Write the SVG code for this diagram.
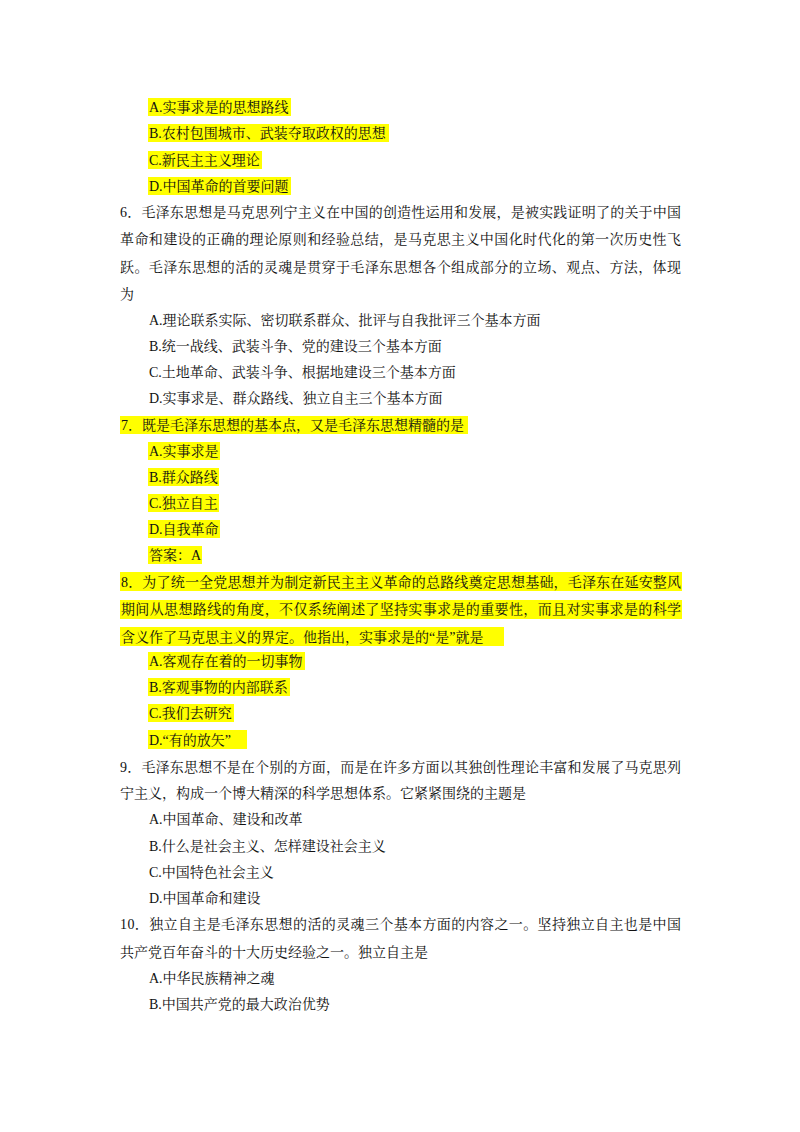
<svg xmlns="http://www.w3.org/2000/svg" width="800" height="1132" viewBox="0 0 800 1132">
<style>
text{font-family:"Liberation Serif","Noto Serif CJK SC","Noto Sans CJK SC",serif;font-size:14px;fill:#111}
.h{fill:#ffff00}
</style>
<rect width="800" height="1132" fill="#fff"/>
<g id="highlights">
<rect class="h" x="148" y="98" width="143" height="18"/>
<rect class="h" x="148" y="124" width="241" height="18"/>
<rect class="h" x="148" y="151" width="114" height="18"/>
<rect class="h" x="148" y="177" width="143" height="18"/>
<rect class="h" x="120" y="416" width="348" height="18"/>
<rect class="h" x="148" y="442" width="72" height="18"/>
<rect class="h" x="148" y="468" width="71" height="18"/>
<rect class="h" x="148" y="494" width="71" height="18"/>
<rect class="h" x="148" y="520" width="72" height="18"/>
<rect class="h" x="148" y="546" width="54" height="18"/>
<rect class="h" x="120" y="572" width="562" height="19"/>
<rect class="h" x="120" y="600" width="562" height="19"/>
<rect class="h" x="120" y="627" width="384" height="19"/>
<rect class="h" x="148" y="652" width="157" height="18"/>
<rect class="h" x="148" y="678" width="142" height="18"/>
<rect class="h" x="148" y="704" width="86" height="18"/>
<rect class="h" x="148" y="730" width="99" height="19"/>
</g>
<g id="text">
<text x="149" y="112">A.实事求是的思想路线</text>
<text x="149" y="138">B.农村包围城市、武装夺取政权的思想</text>
<text x="149" y="165">C.新民主主义理论</text>
<text x="149" y="191">D.中国革命的首要问题</text>
<text x="120" y="217" textLength="561" lengthAdjust="spacing">6．毛泽东思想是马克思列宁主义在中国的创造性运用和发展，是被实践证明了的关于中国</text>
<text x="120" y="244" textLength="561" lengthAdjust="spacing">革命和建设的正确的理论原则和经验总结，是马克思主义中国化时代化的第一次历史性飞</text>
<text x="120" y="272" textLength="561" lengthAdjust="spacing">跃。毛泽东思想的活的灵魂是贯穿于毛泽东思想各个组成部分的立场、观点、方法，体现</text>
<text x="120" y="299">为</text>
<text x="149" y="325">A.理论联系实际、密切联系群众、批评与自我批评三个基本方面</text>
<text x="149" y="351">B.统一战线、武装斗争、党的建设三个基本方面</text>
<text x="149" y="377">C.土地革命、武装斗争、根据地建设三个基本方面</text>
<text x="149" y="403">D.实事求是、群众路线、独立自主三个基本方面</text>
<text x="121" y="430">7．既是毛泽东思想的基本点，又是毛泽东思想精髓的是</text>
<text x="149" y="456">A.实事求是</text>
<text x="149" y="482">B.群众路线</text>
<text x="149" y="508">C.独立自主</text>
<text x="149" y="534">D.自我革命</text>
<text x="149" y="560">答案：A</text>
<text x="121" y="587" textLength="560" lengthAdjust="spacing">8．为了统一全党思想并为制定新民主主义革命的总路线奠定思想基础，毛泽东在延安整风</text>
<text x="121" y="614" textLength="560" lengthAdjust="spacing">期间从思想路线的角度，不仅系统阐述了坚持实事求是的重要性，而且对实事求是的科学</text>
<text x="121" y="642">含义作了马克思主义的界定。他指出，实事求是的“是”就是</text>
<text x="149" y="666">A.客观存在着的一切事物</text>
<text x="149" y="692">B.客观事物的内部联系</text>
<text x="149" y="718">C.我们去研究</text>
<text x="149" y="745">D.“有的放矢”</text>
<text x="120" y="772" textLength="561" lengthAdjust="spacing">9．毛泽东思想不是在个别的方面，而是在许多方面以其独创性理论丰富和发展了马克思列</text>
<text x="120" y="798">宁主义，构成一个博大精深的科学思想体系。它紧紧围绕的主题是</text>
<text x="149" y="824">A.中国革命、建设和改革</text>
<text x="149" y="851">B.什么是社会主义、怎样建设社会主义</text>
<text x="149" y="877">C.中国特色社会主义</text>
<text x="149" y="903">D.中国革命和建设</text>
<text x="120" y="929" textLength="561" lengthAdjust="spacing">10．独立自主是毛泽东思想的活的灵魂三个基本方面的内容之一。坚持独立自主也是中国</text>
<text x="120" y="957">共产党百年奋斗的十大历史经验之一。独立自主是</text>
<text x="149" y="983">A.中华民族精神之魂</text>
<text x="149" y="1009">B.中国共产党的最大政治优势</text>
</g>
</svg>
